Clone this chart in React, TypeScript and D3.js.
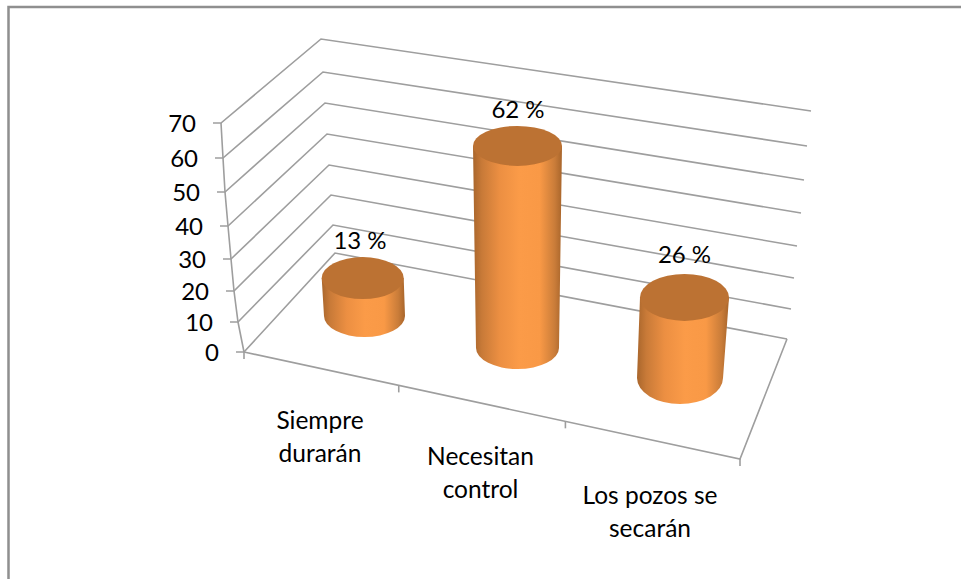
import React from "react";
import * as d3 from "d3";

const categories = [["Siempre", "durarán"], ["Necesitan", "control"], ["Los pozos se", "secarán"]];
const values = [13, 62, 26];
const valueLabels = ["13 %", "62 %", "26 %"];
const axisTicks = [0, 10, 20, 30, 40, 50, 60, 70];

// Projection layout of the 3D box
const frontYs = [352, 322, 291, 259, 226, 192, 158, 123];
const frontXs = [244, 238, 234, 231, 228, 225, 223, 221];
const backYs = [253, 225, 195, 165, 134, 103, 72, 39];
const backXs = [335, 333, 331, 329, 327, 325, 323, 321];
const rightYs = [339, 309, 278, 246, 213, 180, 146, 111];
const rightXs = [787, 791, 794, 797, 801, 804, 807, 811];

const sc = (r: number[]) => d3.scaleLinear().domain(axisTicks).range(r);
const fy = sc(frontYs), fx = sc(frontXs), by = sc(backYs), bx = sc(backXs), ry = sc(rightYs), rx = sc(rightXs);

const floorFrontRight: [number, number] = [740, 459];
const tickWarp = [0, 0.312, 0.648, 1];
const floorAt = (i: number): [number, number] => {
  const t = tickWarp[i];
  return [fx(0) + (floorFrontRight[0] - fx(0)) * t, fy(0) + (floorFrontRight[1] - fy(0)) * t];
};

// Cylinder layout per category: base and top geometry, and pixels per value unit
const cyl = [
  { cx: 364.5, baseY: 316, baseRx: 40.5, baseRy: 21, topCx: 362.7, topRx: 41, topRy: 21, unit: 2.92 },
  { cx: 517.5, baseY: 348, baseRx: 41.5, baseRy: 21, topCx: 517.5, topRx: 44.5, topRy: 20, unit: 3.26 },
  { cx: 680, baseY: 378, baseRx: 43, baseRy: 26, topCx: 684.5, topRx: 44.5, topRy: 23.5, unit: 3.1 },
];
const catLabelPos = [[320, 429], [480.5, 465], [650, 504]];
const valLabelPos = [[360, 249], [518, 118], [684.5, 263]];

const font = "Lato, Carlito, 'Open Sans', sans-serif";
const grid = "#9e9e9e";
const sw = 1.6;

export default function App() {
  const line = d3.line();
  return (
    <svg width={961} height={579} style={{ position: "absolute", left: 0, top: 0, background: "#fff" }} fontFamily={font}>
      <defs>
        <linearGradient id="cyl" x1="0" x2="1" y1="0" y2="0">
          <stop offset="0" stopColor="#a9662c" />
          <stop offset="0.1" stopColor="#c87a38" />
          <stop offset="0.3" stopColor="#ec8f42" />
          <stop offset="0.52" stopColor="#fb9b48" />
          <stop offset="0.75" stopColor="#f99946" />
          <stop offset="0.92" stopColor="#c97c39" />
          <stop offset="1" stopColor="#a8652b" />
        </linearGradient>
      </defs>
      <path d="M961,7 H8.5 V579" fill="none" stroke="#8f8f8f" strokeWidth={2.5} />
      {axisTicks.map((t) => (
        <g key={t}>
          <path d={line([[fx(t) - 8, fy(t)], [fx(t), fy(t)], [bx(t), by(t)], [rx(t), ry(t)]]) ?? ""} fill="none" stroke={grid} strokeWidth={sw} />
          <text x={fx(t) - 25} y={fy(t) + 9} fontSize={24} textAnchor="end" fill="#000">{t}</text>
        </g>
      ))}
      <path d={line(axisTicks.map((t) => [fx(t), fy(t)] as [number, number])) ?? ""} fill="none" stroke={grid} strokeWidth={sw} />
      <path d={line([[rx(0), ry(0)], floorFrontRight, floorAt(0)]) ?? ""} fill="none" stroke={grid} strokeWidth={sw} />
      {d3.range(4).map((i) => {
        const [x, y] = floorAt(i);
        return <path key={i} d={`M${x},${y} V${y + 7}`} stroke={grid} strokeWidth={sw} />;
      })}
      {values.map((v, i) => {
        const c = cyl[i];
        const topY = c.baseY - v * c.unit;
        const tl = c.topCx - c.topRx, tr = c.topCx + c.topRx;
        const bl = c.cx - c.baseRx, br = c.cx + c.baseRx;
        return (
          <g key={i}>
            <path d={`M${tl},${topY} L${bl},${c.baseY} A${c.baseRx},${c.baseRy} 0 0 0 ${br},${c.baseY} L${tr},${topY} Z`} fill="url(#cyl)" />
            <ellipse cx={c.topCx} cy={topY} rx={c.topRx} ry={c.topRy} fill="#bc7233" />
            <text x={valLabelPos[i][0]} y={valLabelPos[i][1]} fontSize={24} textAnchor="middle" fill="#000">{valueLabels[i]}</text>
          </g>
        );
      })}
      {categories.map((lines, i) => (
        <text key={i} fontSize={24.5} textAnchor="middle" fill="#000">
          {lines.map((l, j) => (
            <tspan key={j} x={catLabelPos[i][0]} y={catLabelPos[i][1] + j * 32.5}>{l}</tspan>
          ))}
        </text>
      ))}
    </svg>
  );
}
